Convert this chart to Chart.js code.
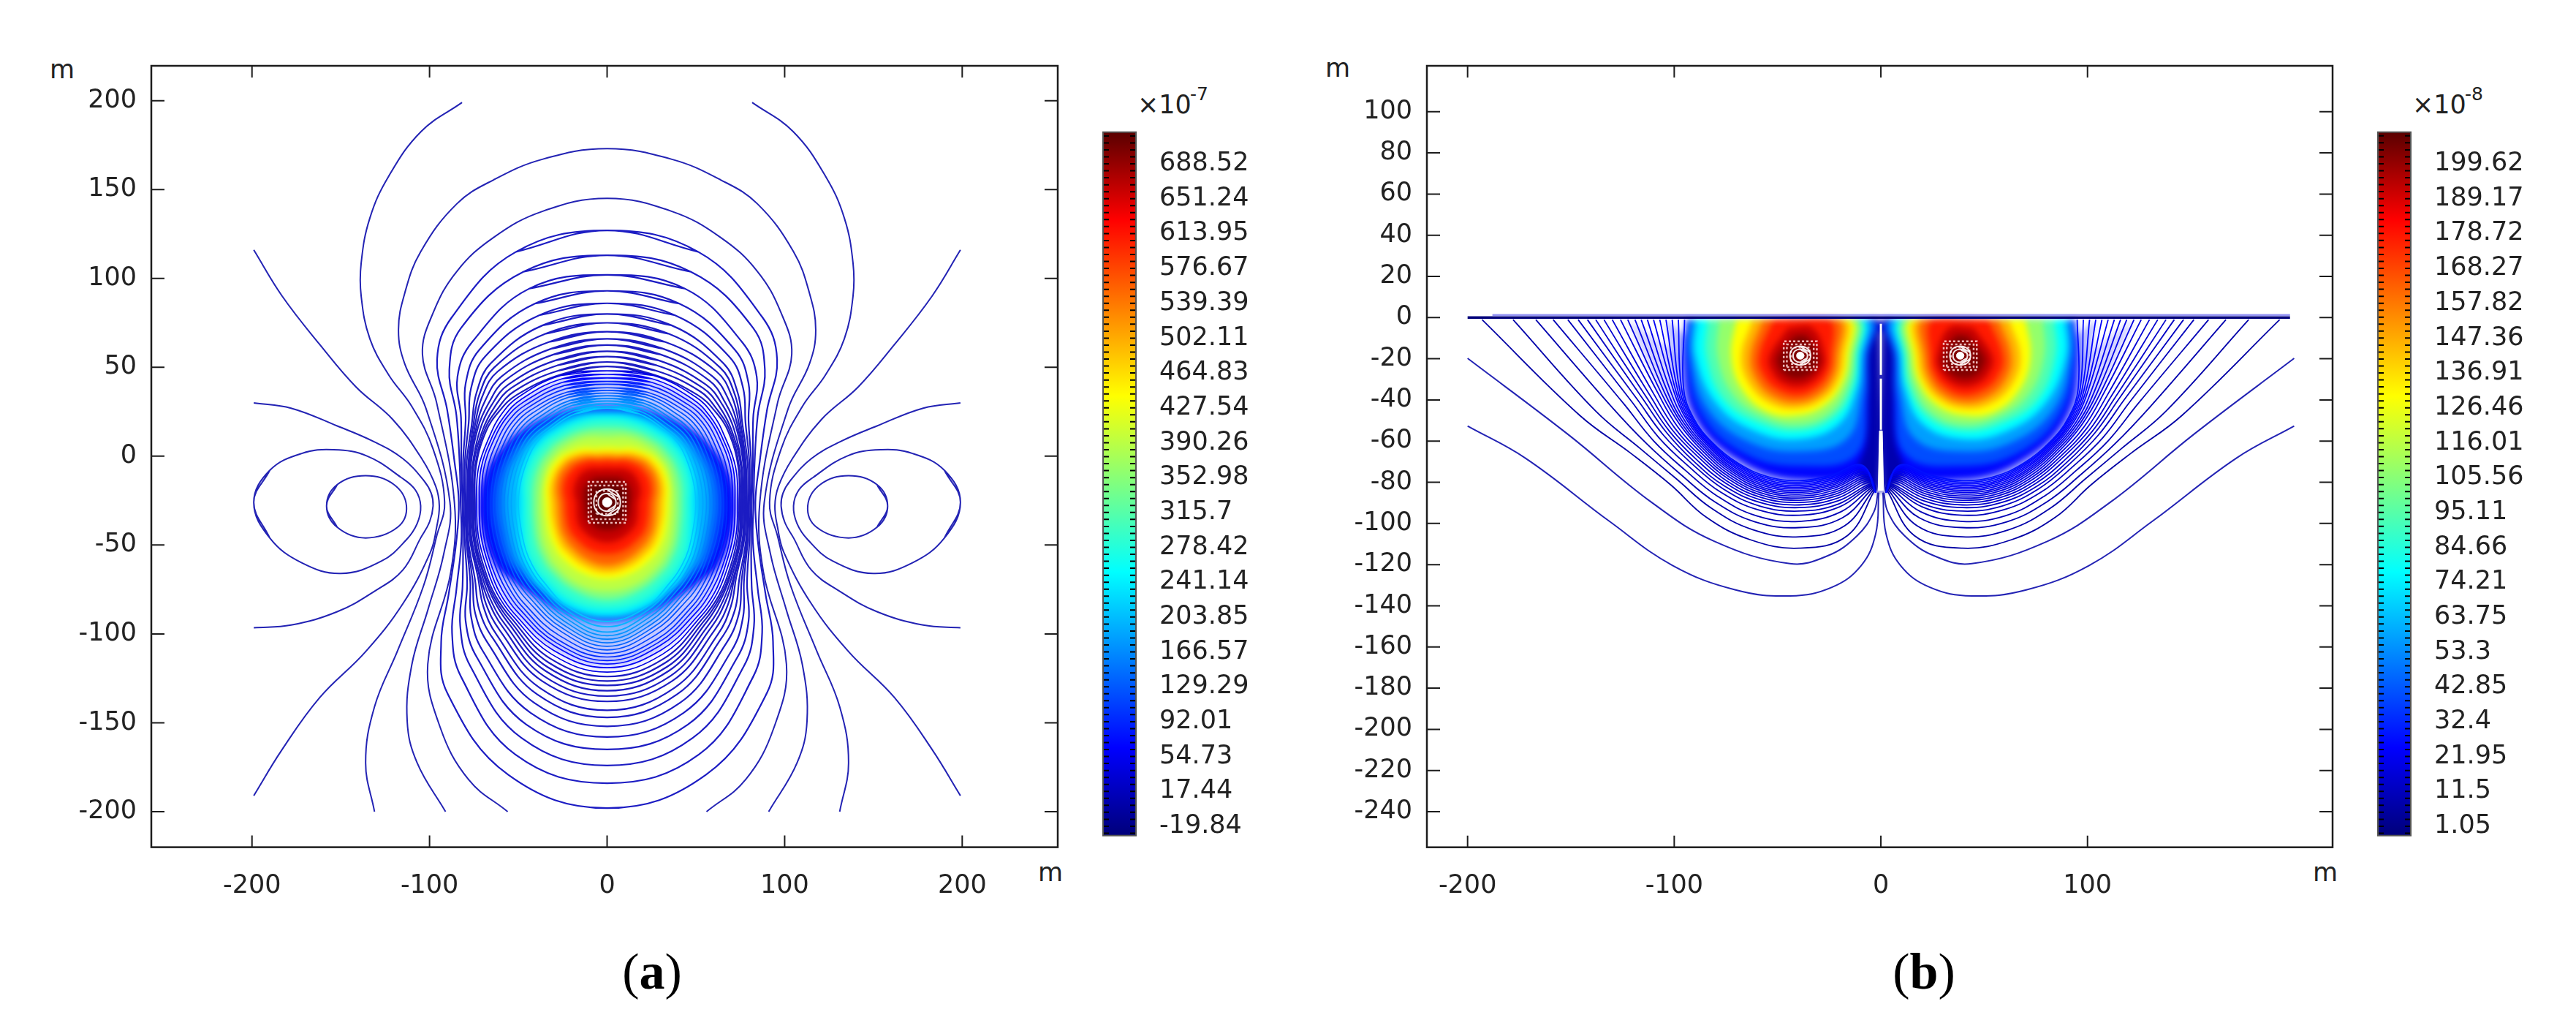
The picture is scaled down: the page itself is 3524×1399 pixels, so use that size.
<!DOCTYPE html>
<html>
<head>
<meta charset="utf-8">
<title>contours</title>
<script src="https://cdn.jsdelivr.net/npm/chart.js@4/dist/chart.umd.js"></script>
<style>
html, body { margin: 0; background: #fff; }
#page { position: relative; width: 3524px; height: 1399px; overflow: hidden; background: #fff; }
canvas { position: absolute; left: 0; top: 0; }
canvas.blob { filter: blur(4px); }
.t { position: absolute; font-family: "DejaVu Sans"; font-size: 35px; color: #222; line-height: 1; white-space: nowrap; }
.cap { position: absolute; font-family: "Liberation Serif"; font-size: 70px; color: #000; line-height: 1; transform: translateX(-50%); }
</style>
</head>
<body>
<div id="page">
  <div class="t" style="left:68px;top:78px">m</div>
  <div class="t" style="left:1420px;top:1176px">m</div>
  <div class="t" style="left:1556px;top:126px">×10</div>
  <div class="t" style="left:1628px;top:116px;font-size:25px">-7</div>
  <div class="cap" style="left:892px;top:1294px">(<b>a</b>)</div>
  <div class="t" style="left:1813px;top:76px">m</div>
  <div class="t" style="left:3164px;top:1176px">m</div>
  <div class="t" style="left:3300px;top:126px">×10</div>
  <div class="t" style="left:3372px;top:116px;font-size:25px">-8</div>
  <div class="cap" style="left:2632px;top:1294px">(<b>b</b>)</div>
</div>
<script>
// tick labels
var xTicksA = [-200, -100, 0, 100, 200];
var yTicksA = [200, 150, 100, 50, 0, -50, -100, -150, -200];
var xTicksB = [-200, -100, 0, 100];
var yTicksB = [100, 80, 60, 40, 20, 0, -20, -40, -60, -80, -100, -120, -140, -160, -180, -200, -220, -240];
var barLabelsA = [688.52, 651.24, 613.95, 576.67, 539.39, 502.11, 464.83, 427.54, 390.26, 352.98, 315.7, 278.42, 241.14, 203.85, 166.57, 129.29, 92.01, 54.73, 17.44, -19.84];
var barLabelsB = [199.62, 189.17, 178.72, 168.27, 157.82, 147.36, 136.91, 126.46, 116.01, 105.56, 95.11, 84.66, 74.21, 63.75, 53.3, 42.85, 32.4, 21.95, 11.5, 1.05];

// colour bar stops, bottom to top
var jetStops = [[0, '#00007a'], [0.125, '#0000ff'], [0.375, '#00ffff'], [0.625, '#ffff00'], [0.875, '#ff0000'], [1, '#5a0000']];

// panel a: radius at these angles round (0,-26), left half
var anglesA = [90, 70, 50, 40, 30, 15, 0, -15, -30, -40, -50, -70, -90];
var ringsA = [
  [153,150,136,125,104,89,83.5,88,103,122,140,163,172],
  [139,138,128,116,98,86,82.5,85,98,114,128,151,158],
  [128,128,118,110,95,85,81.5,84,94,108,120,141,148],
  [119,119,112,104,92,84,80.7,83,91,104,114,133,139],
  [112,112,107,100,90,83,80,82,89,100,109,126,132],
  [106,106,102,96,88,82,79.3,81.5,87.5,97,104,120,126],
  [101,101,99,94,87,81,78.6,81,86,94,100,115,121],
  [96,96,96,92,86,80.5,78,80,84,91,97,111,117],
  [92,92,92.5,89.5,85,80,77.4,79.5,83,89,94,107,112],
  [88.5,88.5,89.5,87,84,79.5,76.8,79,82.5,87,91.5,104,109],
  [85,85,86.5,85,82.5,78.5,76.2,78,81.5,85.5,89.5,101,106],
  [82,82,84,83,81,78,75.6,77.5,80.5,84,87.5,98.5,103],
  [79,79,81.5,81,80,77,75,77,80,83,86,96,100.5],
  [76.5,76.5,79,79.5,79,76.5,74.4,76,79,82,84.5,93.5,98],
  [74,76,77.5,77.5,76,75,73.5,75,77.5,80.5,83,91,95.5],
  [72,74,75.5,75.5,74.5,73.5,72,73.5,76,79,81.5,88.5,93],
  [70,72,73.5,74,73,72,70.5,72,74.5,77,79.5,86,91],
  [68,70,71.5,72,71,70,69,70.5,72.5,75,77.5,84,89],
  [66.5,68,69.5,70,69,68,67.5,68.5,70.5,73,75.5,82,87],
  [64.5,66,67.5,68,67,66,65.5,66.5,68.5,71,73.5,79.5,85],
  [63,64.5,65.5,66,65,64,64,64.5,66.5,69,71,77,83],
  [61.5,63,63.5,64,63,62,62,62.5,64.5,67,69,75,81],
  [60,61,61.5,62,61,60,60,60.5,63,65,67,73,79],
  [58.5,59.5,59.5,60,59,58,58,58.5,61,63,65,71,77],
  [57,58,57.5,58,57,56,56,56.5,59,61,63,69,75],
  [55.5,56,55.5,56,55,54,54,54.5,57,59,61,67,73],
  [54,54.5,53.5,54,53,52,52,52.5,55,57,59,65,70],
  [53,53,52,52,51,50,50,50.5,53,55,57,63,67]
];
// rows of ringsA that also carry the pale haze of the dense zone
var hazeRowsA = [15, 22];
// filled levels of panel a, first number is the place on the colour bar
var blobA = [
  [0.12, 54,56,60,63,66,70,72,72,72,69,67,66.5,67],
  [0.18, 53,55,58.5,60.5,63,66,67,67,67.5,65.5,64.5,65.5,66],
  [0.24, 52,54,56,58,60,62,62.5,62.5,64,62.5,62.5,65,65.5],
  [0.30, 51,52.5,54,55.5,56.5,58,57.5,58,60,60.5,61.5,64,65],
  [0.36, 50,50.5,51.5,52,52.5,51.5,50,52,56,58,60,63,64.5],
  [0.42, 47,47.5,48.5,49,49,48,46.5,48,52,54,55.5,59,60],
  [0.50, 42,43,44,44,44,43,42,43,46,48,50,53,55],
  [0.56, 37,39,40,40,40,38.5,38,39,42,44,46,49,50],
  [0.625, 29,33,36,37,37,36,34.5,35,37,38.5,40,42,43],
  [0.70, 26.5,30,33.5,34,34,33,31.5,32,33.5,35,36,38,39.5],
  [0.78, 24.5,27.5,30.5,31,31,29.5,27.5,28,30,31,32,34,35.5],
  [0.85, 22.5,25,27,27,27,25.5,23.5,24,25.5,26.5,27,28.5,29],
  [0.92, 18,20.5,22,21.5,21,19.5,17.5,18,19.5,20.5,21,22,22.5],
  [0.97, 13,15,15.5,15.5,15,14,13,13,14,14.5,15,15.5,15.5],
  [0.995, 9,10,10.5,10.5,10.5,10,9.5,9.5,10,10,10.5,10.5,10.5]
];
// open contours of panel a, left half as x,y
var wingOuter = [[-199,116],[-183,90],[-162,63],[-141.5,39],[-120.6,20.5],[-104,-2],[-96.5,-17],[-94.5,-28],[-96,-40],[-99.5,-54],[-115,-83],[-136,-110],[-162,-136],[-183,-165],[-199,-191]];
var wingInner = [[-199,30],[-178,27],[-152,17],[-131,8],[-115,-1.4],[-103,-14],[-99,-21],[-98,-28],[-100,-37],[-105,-46],[-115,-64],[-131,-76],[-152,-87.5],[-178,-95],[-199,-96.5]];
var arcTop200 = [[-81.7,199],[-104.7,182.7],[-123,157.5],[-133.6,134],[-138.5,108.7],[-138.5,90],[-133.6,66],[-123,45.7],[-110,28],[-98,4],[-91.5,-26],[-96,-45],[-103.4,-73],[-118,-109.5],[-131,-141],[-136,-172.5],[-131,-200]];
var arcTop173 = [[0,173],[-36.5,167],[-64,155.4],[-84.6,142],[-105,115],[-114,91.6],[-117.5,71],[-114,52],[-102,26.8],[-88.5,-26],[-92,-55],[-100.8,-86],[-110,-117.4],[-112.6,-149],[-107,-172.5],[-91,-200]];
var arcTop145 = [[0,145],[-36.5,137.7],[-64,123],[-84.6,104],[-98,80.6],[-104,57.4],[-96,30],[-86,-26],[-88,-65],[-101,-117],[-94,-152.6],[-78,-182],[-56,-200]];
var loopOuter = [[-199,-26],[-190,-8],[-172,1.5],[-154,3.6],[-135,0],[-116,-12],[-108,-19],[-105,-28],[-107,-38],[-113,-47],[-127,-59],[-150,-66],[-172,-60],[-190,-46]];
var loopInner = [[-158,-28],[-152,-16],[-136,-11],[-120,-16],[-113,-28],[-118,-40],[-136,-46],[-152,-40]];
// rings round the peak: half width, half height
var coreA = [[5,5],[7.5,7.5]];
var speckA = [[10.5,11.5],[9,9.5],[6,6.5]];
var coreB = [[3.5,3.2],[5,4.6]];
var speckB = [[8,7],[6.5,5.5],[4.5,4]];

// panel b: radius read at these angles round (-39.5,-19), 90 is straight down, start x on the surface first
var anglesB = [165, 150, 135, 120, 105, 90, 75, 60];
var ringsB = [
  [-193,110,94,88,90,92,93,90,74],
  [-178,102,89,84,85,87,87.5,85,73.5],
  [-167,94,85,81,81.5,83,83,81,73],
  [-158.6,88,81.5,78,78.5,80,80,78,72.5],
  [-151.5,84,78.5,75.5,76,77,77,75.5,72],
  [-146.5,81,76,73.5,74,75,75,74,71.5],
  [-142,78.5,74,72,72.5,73.3,73.3,72.5,71],
  [-138,76.5,72.5,70.5,71,72,72,71.2,70],
  [-134,74.5,71,69,69.8,70.8,70.8,70,69.2],
  [-130,72.5,69.5,67.8,68.6,69.7,69.7,69,68.4],
  [-126,70.5,68,66.6,67.5,68.7,68.7,68,67.6],
  [-122.5,69,66.5,65.5,66.5,67.7,67.7,67,66.8],
  [-119,67.5,65.5,64.5,65.5,66.8,66.8,66,66],
  [-116,66,64.5,63.6,64.6,65.9,65.9,65.2,65.3],
  [-113,64.5,63.5,62.8,63.8,65,65,64.4,64.6],
  [-110,63,62.5,62,63,64.2,64.2,63.6,64],
  [-107,62,61.7,61.3,62.2,63.4,63.4,62.8,63.3],
  [-104,61,61,60.7,61.5,62.6,62.6,62,62.6],
  [-101,60,60.3,60.1,60.8,61.8,61.8,61.2,62],
  [-98,59,59.7,59.6,60.2,61,61,60.4,61.4],
  [-95,58,59.2,59.2,59.6,60.2,60.2,59.6,60.8]
];
// rows of ringsB that also carry the pale haze
var hazeRowsB = [11, 17];
// filled levels of panel b: bar place, left x, radii at 180..0, right x, y where it meets the top
var blobAnglesB = [180, 150, 120, 90, 60, 30, 0];
var blobB = [
  [0.13,-94,56,58,58,59.5,62,41,36.5,-2.5,-1],
  [0.20,-93,54.5,55,54,53,55,38,33.5,-4,-1],
  [0.28,-92,52.5,51,48,46,46,35,31.5,-6,-1],
  [0.375,-89,50,46,42,40,38,32,29.7,-9,-1],
  [0.45,-84,45,42,37.5,36,34,30,28,-11,-1],
  [0.52,-78.5,39.5,37,34,33,31,27.5,26.6,-12.4,-1],
  [0.625,-70,33,32,31,28.5,26.5,24.5,24,-15,-1],
  [0.70,-62,28,27.5,26.5,25,23.5,22,21.5,-17.5,-1],
  [0.78,-57,23.5,23.5,23,22,20.5,19,18.5,-20.5,-1],
  [0.85,-52,19.5,19.5,19,18.5,17,16,15.5,-25,-1],
  [0.92,-45,14.5,15,15,14.5,13.5,13,12.5,-33,-5],
  [0.97,-42,10.5,11,11,10.5,10,10,9.5,-36,-9]
];
var darkStrip = [[-0.5,-1],[-5.5,-1],[-6,-35],[-7,-60],[-11,-76],[-3,-84],[-0.5,-84],[-0.5,-1]];
var lobeOuter = [[-200,-52.7],[-172,-68.3],[-131.3,-99],[-100.8,-120.4],[-70.3,-132.3],[-44,-135.2],[-23.7,-131],[-9.5,-120.4],[-2.5,-105],[-1,-85]];
var lobeNext = [[-200,-19.8],[-151.7,-56.5],[-111,-89.7],[-80.7,-108.6],[-44,-119.5],[-25.7,-115.7],[-11.5,-106],[-3.4,-94.4],[-1.4,-85]];
var surface = [[-200,0],[198,0]];
var surfaceEdge = [[-188,1.3],[198,1.3]];
var gap = [[0,-3],[0,-84]];
var wedge = [[-0.7,-55],[-1.3,-84],[1.3,-84],[0.7,-55],[-0.7,-55]];

function rad(a) { return a * Math.PI / 180; }
function mirror(p) { return p.map(function(q) { return [-q[0], q[1]]; }); }
function xy(p) { return p.map(function(q) { return { x: q[0], y: q[1] }; }); }
function hex(s) { return [parseInt(s.substr(1, 2), 16), parseInt(s.substr(3, 2), 16), parseInt(s.substr(5, 2), 16)]; }
function jet(t) {
  for (var i = 1; i < jetStops.length; i++) {
    if (t <= jetStops[i][0]) {
      var a = hex(jetStops[i - 1][1]), b = hex(jetStops[i][1]);
      var f = (t - jetStops[i - 1][0]) / (jetStops[i][0] - jetStops[i - 1][0]);
      return 'rgb(' + [0, 1, 2].map(function(k) { return Math.round(a[k] + (b[k] - a[k]) * f); }).join(',') + ')';
    }
  }
  return jetStops[jetStops.length - 1][1];
}
function line(points, color, width, extra) {
  return Object.assign({ data: xy(points), showLine: true, pointRadius: 0, borderColor: color, borderWidth: width, tension: 0.4, fill: false }, extra || {});
}
// closed loop from a left-half list, overlapped one step so the join stays smooth
function closeLoop(left) {
  var right = mirror(left).reverse().slice(1);
  var all = left.concat(right);
  return [right[right.length - 2]].concat(all, [left[1]]);
}
function wrap(p) { return [p[p.length - 1]].concat(p, [p[0], p[1]]); }
function overTop(left) { return left.slice().reverse().concat(mirror(left).slice(1)); }
function ringA(r) {
  return closeLoop(anglesA.map(function(a, i) { return [-r[i] * Math.cos(rad(a)), -26 + r[i] * Math.sin(rad(a))]; }));
}
function ringB(r) {
  var p = [[r[0], -1]];
  anglesB.forEach(function(a, i) { p.push([-39.5 + r[i + 1] * Math.cos(rad(a)), -19 - r[i + 1] * Math.sin(rad(a))]); });
  p.push([-2.5, -85]);
  return p;
}
function blobLobeB(r) {
  var p = [[r[1], r[10]]];
  blobAnglesB.forEach(function(a, i) { p.push([-39.5 + r[i + 2] * Math.cos(rad(a)), -19 - r[i + 2] * Math.sin(rad(a))]); });
  p.push([r[9], r[10]]);
  p.push([r[1], r[10]]);
  return p;
}
function ellipse(cx, cy, r) {
  var p = [[cx + r[0], cy], [cx, cy + r[1]], [cx - r[0], cy], [cx, cy - r[1]]];
  return [p[3]].concat(p, [p[0], p[1]]);
}
function square(cx, cy, r) {
  return [[cx - r[0], cy - r[1]], [cx + r[0], cy - r[1]], [cx + r[0], cy + r[1]], [cx - r[0], cy + r[1]], [cx - r[0], cy - r[1]]];
}
function coreSets(cx, cy, rings, specks, dot) {
  var sets = [];
  specks.forEach(function(r) { sets.push(line(square(cx, cy, r), 'rgba(255,215,215,0.85)', 2.5, { tension: 0, borderDash: [3, 3] })); });
  rings.forEach(function(r) { sets.push(line(ellipse(cx, cy, r), 'rgba(255,255,255,0.9)', 2, { tension: 0.6 })); });
  sets.push(line(ellipse(cx, cy, dot), '#ffffff', 1, { tension: 0.6, fill: 'shape', backgroundColor: '#ffffff' }));
  return sets;
}

var frame = {
  id: 'frame',
  afterDraw: function(chart) {
    var c = chart.ctx, a = chart.chartArea, sx = chart.scales.x, sy = chart.scales.y;
    c.save();
    c.strokeStyle = '#1c1c1c';
    c.lineWidth = 2;
    sx.ticks.forEach(function(t) {
      var x = sx.getPixelForValue(t.value);
      c.beginPath(); c.moveTo(x, a.top); c.lineTo(x, a.top + 16); c.moveTo(x, a.bottom); c.lineTo(x, a.bottom - 16); c.stroke();
    });
    sy.ticks.forEach(function(t) {
      var y = sy.getPixelForValue(t.value);
      c.beginPath(); c.moveTo(a.left, y); c.lineTo(a.left + 18, y); c.moveTo(a.right, y); c.lineTo(a.right - 18, y); c.stroke();
    });
    c.lineWidth = 2.5;
    c.strokeRect(a.left, a.top, a.right - a.left, a.bottom - a.top);
    c.restore();
  }
};
var barMarks = {
  id: 'barMarks',
  afterDraw: function(chart) {
    var c = chart.ctx, a = chart.chartArea, s = chart.scales.y, labels = chart.options.barLabels;
    var step = (labels[0] - labels[1]) / 5;
    c.save();
    c.strokeStyle = '#000';
    c.lineWidth = 2;
    for (var v = labels[0] + step * 5; v > s.min; v -= step) {
      if (v > s.max) continue;
      var y = s.getPixelForValue(v);
      c.beginPath(); c.moveTo(a.left, y); c.lineTo(a.left + 8, y); c.moveTo(a.right, y); c.lineTo(a.right - 8, y); c.stroke();
    }
    c.strokeStyle = '#555';
    c.strokeRect(a.left, a.top, a.right - a.left, a.bottom - a.top);
    c.restore();
  }
};

function addCanvas(cls) {
  var el = document.createElement('canvas');
  el.width = 3524; el.height = 1399;
  if (cls) el.className = cls;
  document.getElementById('page').appendChild(el);
  return el;
}
function setTicks(list) {
  return function(s) { s.ticks = list.map(function(v) { return { value: v }; }); };
}
var tickFont = { family: 'DejaVu Sans', size: 35 };

// the last set has to come out on top, chart.js paints index 0 last
function plot(box, xr, yr, xTicks, yTicks, datasets) {
  new Chart(addCanvas(), {
    type: 'scatter',
    data: { datasets: datasets.slice().reverse() },
    plugins: [frame],
    options: {
      responsive: false, animation: false, events: [],
      layout: { padding: { left: box[0] - 170, top: box[1], right: 3524 - box[2], bottom: 1399 - box[3] - 100 } },
      plugins: { legend: { display: false }, tooltip: { enabled: false } },
      scales: {
        x: { type: 'linear', min: xr[0], max: xr[1], afterBuildTicks: setTicks(xTicks), afterFit: function(s) { s.height = 100; },
             grid: { display: false }, border: { display: false },
             ticks: { autoSkip: false, maxRotation: 0, padding: 24, color: '#222', font: tickFont } },
        y: { type: 'linear', min: yr[0], max: yr[1], afterBuildTicks: setTicks(yTicks), afterFit: function(s) { s.width = 170; },
             grid: { display: false }, border: { display: false },
             ticks: { autoSkip: false, padding: 12, color: '#222', font: tickFont } }
      }
    }
  });
}
function blob(box, xr, yr, datasets) {
  new Chart(addCanvas('blob'), {
    type: 'scatter',
    data: { datasets: datasets.slice().reverse() },
    options: {
      responsive: false, animation: false, events: [],
      layout: { padding: { left: box[0], top: box[1], right: 3524 - box[2], bottom: 1399 - box[3] } },
      plugins: { legend: { display: false }, tooltip: { enabled: false } },
      scales: { x: { type: 'linear', display: false, min: xr[0], max: xr[1] }, y: { type: 'linear', display: false, min: yr[0], max: yr[1] } }
    }
  });
}
function colorBar(box, range, labels) {
  new Chart(addCanvas(), {
    type: 'bar',
    data: { labels: [''], datasets: [{
      data: [[range[0], range[1]]], barPercentage: 1, categoryPercentage: 1,
      backgroundColor: function(ctx) {
        var a = ctx.chart.chartArea;
        if (!a) return '#00f';
        var g = ctx.chart.ctx.createLinearGradient(0, a.bottom, 0, a.top);
        jetStops.forEach(function(s) { g.addColorStop(s[0], s[1]); });
        return g;
      }
    }] },
    plugins: [barMarks],
    options: {
      responsive: false, animation: false, events: [], barLabels: labels,
      layout: { padding: { left: box[0], top: box[1], right: 3524 - box[2] - 200, bottom: 1399 - box[3] } },
      plugins: { legend: { display: false }, tooltip: { enabled: false } },
      scales: {
        x: { display: false },
        y: { position: 'right', min: range[0], max: range[1], afterBuildTicks: setTicks(labels), afterFit: function(s) { s.width = 200; },
             grid: { display: false }, border: { display: false },
             ticks: { autoSkip: false, padding: 24, color: '#222', font: tickFont, callback: function(v) { return String(v); } } }
      }
    }
  });
}
function haze(points, color) {
  return line(points, color, 0, { fill: 'shape', backgroundColor: color });
}

// panel a
var boxA = [207, 90, 1447, 1158.6], xrA = [-256.7, 253.8], yrA = [-220, 219.6];
var blobSetsA = [
  haze(ringA(ringsA[hazeRowsA[0]]), 'rgba(110,120,255,0.4)'),
  haze(ringA(ringsA[hazeRowsA[1]]), 'rgba(95,170,255,0.55)')
];
blobA.forEach(function(r) {
  blobSetsA.push(haze(ringA(r.slice(1)), jet(r[0])));
});
blob(boxA, xrA, yrA, blobSetsA);
var setsA = [];
ringsA.forEach(function(r, i) {
  var t = i < 14 ? 0.07 : 0.1 + (i - 14) * 0.017;
  setsA.push(line(ringA(r), i < 14 ? 'rgb(28,28,195)' : jet(t), i < 14 ? 2.2 : 1.7));
});
[wingOuter, wingInner, arcTop200].forEach(function(p) {
  setsA.push(line(p, 'rgb(35,35,180)', 2));
  setsA.push(line(mirror(p), 'rgb(35,35,180)', 2));
});
[arcTop173, arcTop145].forEach(function(p) {
  setsA.push(line(overTop(p), 'rgb(35,35,180)', 2));
});
[loopOuter, loopInner].forEach(function(p) {
  setsA.push(line(wrap(p), 'rgb(35,35,180)', 2));
  setsA.push(line(mirror(wrap(p)), 'rgb(35,35,180)', 2));
});
setsA = setsA.concat(coreSets(0, -26, coreA, speckA, [2.6, 2.6]));
plot(boxA, xrA, yrA, xTicksA, yTicksA, setsA);
colorBar([1509, 180.7, 1554, 1142.7], [-29.8, 722.4], barLabelsA);

// panel b
var boxB = [1952, 90, 3191, 1158.7], xrB = [-219.7, 218.6], yrB = [-257.3, 122.3];
var blobSetsB = [];
hazeRowsB.forEach(function(k, i) {
  var c = i === 0 ? 'rgba(110,110,255,0.3)' : 'rgba(100,110,255,0.45)';
  blobSetsB.push(haze(ringB(ringsB[k]), c));
  blobSetsB.push(haze(mirror(ringB(ringsB[k])), c));
});
blobB.forEach(function(r, i) {
  var p = blobLobeB(r);
  blobSetsB.push(haze(p, jet(r[0])));
  blobSetsB.push(haze(mirror(p), jet(r[0])));
  if (i === 0) {
    blobSetsB.push(haze(darkStrip, jet(0.05)));
    blobSetsB.push(haze(mirror(darkStrip), jet(0.05)));
  }
});
blob([1952, 434.3, 3191, 1158.7], xrB, [-257.3, 0], blobSetsB);
var setsB = [];
ringsB.forEach(function(r, i) {
  var c = jet(0.04 + i * 0.005);
  setsB.push(line(ringB(r), c, 1.8));
  setsB.push(line(mirror(ringB(r)), c, 1.8));
});
[lobeOuter, lobeNext].forEach(function(p) {
  setsB.push(line(p, 'rgb(35,35,180)', 2));
  setsB.push(line(mirror(p), 'rgb(35,35,180)', 2));
});
setsB.push(line(surfaceEdge, 'rgba(120,120,240,0.8)', 2.5, { tension: 0 }));
setsB.push(line(surface, '#00007a', 3.5, { tension: 0 }));
setsB.push(line(gap, '#ffffff', 3, { tension: 0, borderDash: [70, 5] }));
setsB.push(line(wedge, '#ffffff', 1, { tension: 0, fill: 'shape', backgroundColor: '#ffffff' }));
setsB = setsB.concat(coreSets(-39, -18.5, coreB, speckB, [1.8, 1.7]), coreSets(38.4, -18.5, coreB, speckB, [1.8, 1.7]));
plot(boxB, xrB, yrB, xTicksB, yTicksB, setsB);
colorBar([3253, 180.7, 3298, 1142.7], [-1.73, 209.1], barLabelsB);
</script>
</body>
</html>
